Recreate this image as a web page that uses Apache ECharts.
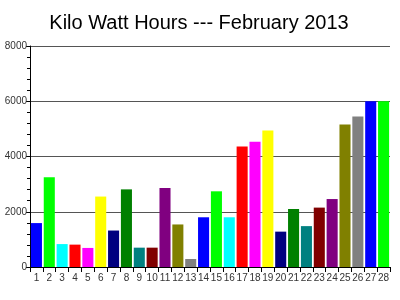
<!DOCTYPE html>
<html><head><meta charset="utf-8">
<script src="https://cdn.jsdelivr.net/npm/echarts@6/dist/echarts.min.js"></script>
<style>html,body{margin:0;padding:0;background:#fff}#c{width:400px;height:300px}</style>
</head><body><div id="c"></div>
<script>
const days = ['1','2','3','4','5','6','7','8','9','10','11','12','13','14','15','16','17','18','19','20','21','22','23','24','25','26','27','28'];
const kwh = [1590,3250,830,810,690,2550,1320,2810,700,700,2860,1540,290,1800,2740,1800,4360,4530,4940,1280,2100,1480,2150,2460,5160,5450,6000,6000];
const palette = ['#0000FF','#00FF00','#00FFFF','#FF0000','#FF00FF','#FFFF00','#000080','#008000','#008080','#800000','#800080','#808000','#808080'];
const yTicks = [0,2000,4000,6000,8000];

const chart = echarts.init(document.getElementById('c'), null, {renderer:'canvas'});
chart.setOption({
  animation:false,
  title:{text:'Kilo Watt Hours --- February 2013', left:194, textAlign:'center', top:8,
    textStyle:{fontFamily:'Liberation Sans', fontSize:20, fontWeight:'normal', color:'#000'}},
  grid:{left:30, right:10, top:46, bottom:33},
  xAxis:{type:'category', data:days,
    axisLine:{lineStyle:{color:'#000', width:1}},
    axisTick:{show:true, length:5, lineStyle:{color:'#000'}},
    axisLabel:{fontFamily:'Liberation Sans', fontSize:10, color:'#333', margin:6, interval:0}},
  yAxis:{type:'value', min:yTicks[0], max:yTicks[yTicks.length-1], interval:2000,
    axisLine:{show:true, lineStyle:{color:'#000'}},
    axisTick:{show:true, length:4, lineStyle:{color:'#000'}},
    minorTick:{show:true, splitNumber:5, length:3, lineStyle:{color:'#000'}},
    splitLine:{show:true, lineStyle:{color:'#555', width:1}},
    axisLabel:{fontFamily:'Liberation Sans', fontSize:10, color:'#333', margin:3, formatter:v=>String(v)}},
  series:[{type:'bar', data:kwh.map((v,i)=>({value:v, itemStyle:{color:palette[i%palette.length]}})),
    barCategoryGap:'14%'}]
});
</script></body></html>
